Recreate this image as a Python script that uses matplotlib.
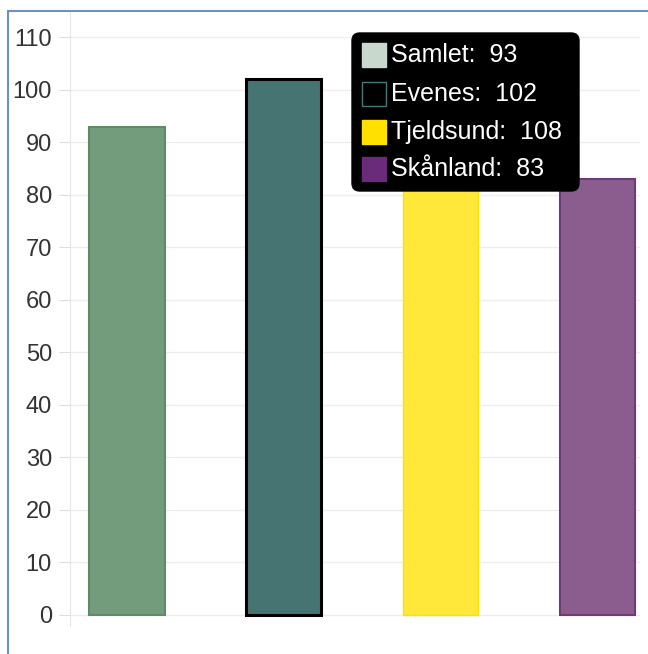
import matplotlib.pyplot as plt
from matplotlib.patches import Rectangle, FancyBboxPatch

# data
names = ['Samlet', 'Evenes', 'Tjeldsund', 'Skånland']
values = [93, 102, 108, 83]
yticks = [0, 10, 20, 30, 40, 50, 60, 70, 80, 90, 100, 110]

bar_colors = ['#739c7c', '#467472', '#ffe83a', '#8b5d8f']
edge_colors = ['#5e8a68', '#000000', '#ffe000', '#6e3a78']
edge_widths = [1.5, 2.2, 1, 1.5]
swatch_colors = ['#c8d8cc', '#000000', '#ffe000', '#6a2c7a']
swatch_edges = ['#c8d8cc', '#4a7a78', '#ffe000', '#6a2c7a']

W, H = 648, 654
fig = plt.figure(figsize=(W / 100, H / 100), dpi=100)
plt.rcParams['font.family'] = ['Liberation Sans', 'DejaVu Sans']

# axes placed in pixel terms
ax_l, ax_r = 70, 640
ax_top, ax_bot = 11, 625.5
ax = fig.add_axes([ax_l / W, (H - ax_bot) / H, (ax_r - ax_l) / W, (ax_bot - ax_top) / H])

x = range(len(names))
for i in x:
    ax.bar(i, values[i], width=0.478, color=bar_colors[i], edgecolor=edge_colors[i],
           linewidth=edge_widths[i], zorder=3)

ax.set_xlim(-0.363, 3.268)
ax.set_ylim(-2, 115)
ax.set_yticks(yticks)
ax.set_yticklabels([str(t) for t in yticks], fontsize=17, color='#333333')
ax.tick_params(axis='y', length=8, color='#dddddd', pad=5)
ax.set_xticks([])
ax.grid(axis='y', color='#eeeeee', linewidth=1, zorder=0)
for s in ['top', 'right', 'bottom']:
    ax.spines[s].set_visible(False)
ax.spines['left'].set_color('#e6e6e6')

# outer blue frame (cut off at right and bottom)
fig.patches.append(Rectangle((8 / W, -0.05), 1.0, (H - 11) / H + 0.05, transform=fig.transFigure,
                             fill=False, edgecolor='#6d8fc7', linewidth=1.5, zorder=10))

# tooltip box
bx0, bx1, by0, by1 = 352, 579, 33, 191
fig.patches.append(FancyBboxPatch((bx0 / W, (H - by1) / H), (bx1 - bx0) / W, (by1 - by0) / H,
                                  boxstyle='round,pad=0,rounding_size=0.012',
                                  transform=fig.transFigure, facecolor='black',
                                  edgecolor='black', zorder=20))
row_y = [55, 94, 132, 169]
for i in range(len(names)):
    yy = row_y[i]
    fig.patches.append(Rectangle((362 / W, (H - yy - 12) / H), 24 / W, 24 / H,
                                 transform=fig.transFigure, facecolor=swatch_colors[i],
                                 edgecolor=swatch_edges[i], linewidth=1, zorder=21))
    fig.text(391 / W, (H - yy) / H, f'{names[i]}:  {values[i]}', color='white',
             fontsize=18, va='center', ha='left', zorder=22)

fig.savefig('out.png', dpi=100)
